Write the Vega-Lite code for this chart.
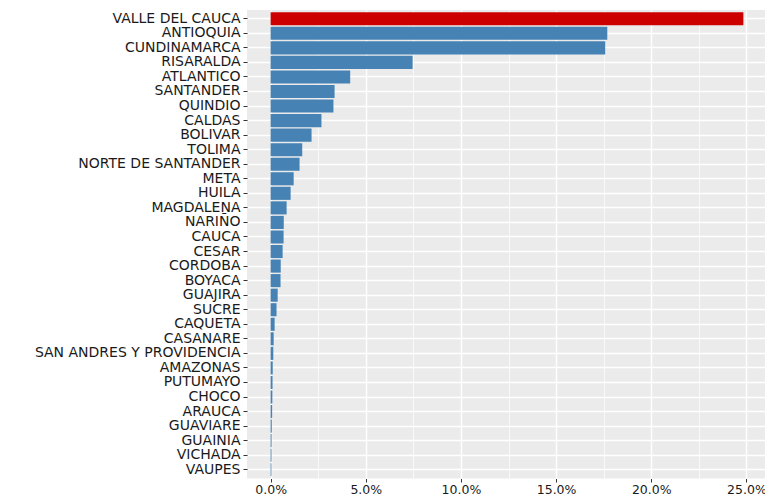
{
  "$schema": "https://vega.github.io/schema/vega-lite/v6.json",
  "autosize": {"type": "none"},
  "padding": {"left": 247, "top": 10, "right": 0, "bottom": 18},
  "width": 520,
  "height": 468.5,
  "background": "white",
  "view": {"fill": "#EBEBEB", "stroke": null},
  "data": {"values": [
    {"departamento": "VALLE DEL CAUCA", "pct": 0.2484},
    {"departamento": "ANTIOQUIA", "pct": 0.1769},
    {"departamento": "CUNDINAMARCA", "pct": 0.1758},
    {"departamento": "RISARALDA", "pct": 0.0746},
    {"departamento": "ATLANTICO", "pct": 0.0418},
    {"departamento": "SANTANDER", "pct": 0.0336},
    {"departamento": "QUINDIO", "pct": 0.0330},
    {"departamento": "CALDAS", "pct": 0.0267},
    {"departamento": "BOLIVAR", "pct": 0.0215},
    {"departamento": "TOLIMA", "pct": 0.0166},
    {"departamento": "NORTE DE SANTANDER", "pct": 0.0152},
    {"departamento": "META", "pct": 0.0121},
    {"departamento": "HUILA", "pct": 0.0105},
    {"departamento": "MAGDALENA", "pct": 0.0084},
    {"departamento": "NARIÑO", "pct": 0.0069},
    {"departamento": "CAUCA", "pct": 0.0068},
    {"departamento": "CESAR", "pct": 0.0063},
    {"departamento": "CORDOBA", "pct": 0.0053},
    {"departamento": "BOYACA", "pct": 0.0052},
    {"departamento": "GUAJIRA", "pct": 0.0037},
    {"departamento": "SUCRE", "pct": 0.0031},
    {"departamento": "CAQUETA", "pct": 0.0021},
    {"departamento": "CASANARE", "pct": 0.0016},
    {"departamento": "SAN ANDRES Y PROVIDENCIA", "pct": 0.0014},
    {"departamento": "AMAZONAS", "pct": 0.0011},
    {"departamento": "PUTUMAYO", "pct": 0.0010},
    {"departamento": "CHOCO", "pct": 0.0009},
    {"departamento": "ARAUCA", "pct": 0.0008},
    {"departamento": "GUAVIARE", "pct": 0.0006},
    {"departamento": "GUAINIA", "pct": 0.0005},
    {"departamento": "VICHADA", "pct": 0.00045},
    {"departamento": "VAUPES", "pct": 0.0004}
  ]},
  "encoding": {
    "y": {
      "field": "departamento", "type": "nominal",
      "sort": {"field": "pct", "order": "descending"},
      "scale": {"paddingInner": 0.1, "paddingOuter": 0.15},
      "axis": {
        "title": null, "domain": false, "bandPosition": 0.5,
        "grid": true, "gridColor": "white", "gridWidth": 1.4,
        "ticks": true, "tickSize": 4, "tickColor": "#333333", "tickWidth": 1,
        "labelFont": "DejaVu Sans", "labelFontSize": 14, "labelColor": "#1a1a1a",
        "labelPadding": 3, "labelLimit": 400
      }
    },
    "x": {
      "field": "pct", "type": "quantitative",
      "scale": {"domain": [-0.01242, 0.26082], "nice": false, "zero": false}
    }
  },
  "layer": [
    {
      "mark": {"type": "bar", "opacity": 0},
      "encoding": {
        "x": {
          "field": "pct", "type": "quantitative",
          "axis": {
            "orient": "top", "title": null, "values": [0.025, 0.075, 0.125, 0.175, 0.225],
            "grid": true, "gridColor": "white", "gridWidth": 0.7,
            "labels": false, "ticks": false, "domain": false
          }
        }
      }
    },
    {
      "mark": {"type": "bar"},
      "encoding": {
        "x": {
          "field": "pct", "type": "quantitative",
          "axis": {
            "orient": "bottom", "title": null, "format": ".1%",
            "values": [0, 0.05, 0.1, 0.15, 0.2, 0.25],
            "grid": true, "gridColor": "white", "gridWidth": 1.4,
            "domain": false, "ticks": true, "tickSize": 3.5, "tickColor": "#333333",
            "labelFont": "DejaVu Sans", "labelFontSize": 12.5, "labelColor": "#1a1a1a",
            "labelPadding": 1.5
          }
        },
        "color": {
          "condition": {"test": "datum.departamento === 'VALLE DEL CAUCA'", "value": "#CD0000"},
          "value": "#4682B4"
        }
      }
    }
  ],
  "resolve": {"axis": {"x": "independent"}}
}
